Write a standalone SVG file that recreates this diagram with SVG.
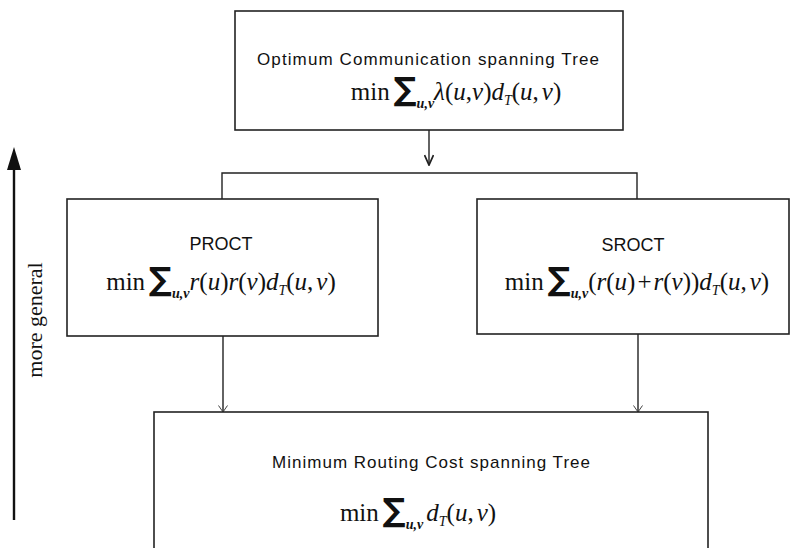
<svg xmlns="http://www.w3.org/2000/svg" width="792" height="548" viewBox="0 0 792 548">
<defs>
<style>
.box{fill:#fff;stroke:#222;stroke-width:1.6}
.con{fill:none;stroke:#222;stroke-width:1.4}
.lbl{font-family:"Liberation Sans",Arial,sans-serif;font-size:17px;fill:#111;text-anchor:middle}
.lbl2{font-family:"Liberation Sans",Arial,sans-serif;font-size:18px;fill:#111;text-anchor:middle}
.f{font-family:"Liberation Serif","Times New Roman",serif;font-size:25px;fill:#111;text-anchor:middle}
.i{font-style:italic}
.sum{font-family:"DejaVu Sans","Liberation Sans",sans-serif;font-size:32px;font-weight:bold}
.sub{font-style:italic;font-weight:bold;font-size:14px}
.st{font-style:italic;font-size:14px}
</style>
<marker id="vee" viewBox="0 0 12 10" refX="11" refY="5" markerWidth="12" markerHeight="10" markerUnits="userSpaceOnUse" orient="auto">
<path d="M1,0.5 L11,5 L1,9.5" fill="none" stroke="#222" stroke-width="1.8"/>
</marker>
<marker id="veeS" viewBox="0 0 8 10" refX="7" refY="5" markerWidth="8" markerHeight="10" markerUnits="userSpaceOnUse" orient="auto">
<path d="M0.5,0.5 L7,5 L0.5,9.5" fill="none" stroke="#444" stroke-width="1"/>
</marker>
</defs>

<g id="connectors">
<line class="con" x1="429" y1="130" x2="429" y2="165" marker-end="url(#vee)"/>
<polyline class="con" points="222,199 222,173 637,173 637,199"/>
<line class="con" x1="223" y1="336" x2="223" y2="412" marker-end="url(#veeS)"/>
<line class="con" x1="638" y1="334" x2="638" y2="412" marker-end="url(#veeS)"/>
</g>

<g id="ocst">
<rect class="box" x="235" y="11" width="388" height="119"/>
<text class="lbl" x="428" y="65" textLength="342" lengthAdjust="spacing">Optimum Communication spanning Tree</text>
<text class="f" x="456" y="100">min<tspan class="sum" dx="4">∑</tspan><tspan class="sub" dy="8">u,v</tspan><tspan class="i" dy="-8">λ</tspan>(<tspan class="i">u</tspan>,<tspan class="i">v</tspan>)<tspan class="i">d</tspan><tspan class="st" dy="5">T</tspan><tspan dy="-5">(</tspan><tspan class="i">u</tspan>,<tspan class="i" dx="3">v</tspan>)</text>
</g>

<g id="proct">
<rect class="box" x="67" y="199" width="311" height="137"/>
<text class="lbl2" x="221" y="250">PROCT</text>
<text class="f" x="221" y="290">min<tspan class="sum" dx="4">∑</tspan><tspan class="sub" dy="8">u,v</tspan><tspan class="i" dy="-8">r</tspan>(<tspan class="i">u</tspan>)<tspan class="i">r</tspan>(<tspan class="i">v</tspan>)<tspan class="i">d</tspan><tspan class="st" dy="5">T</tspan><tspan dy="-5">(</tspan><tspan class="i">u</tspan>,<tspan class="i" dx="3">v</tspan>)</text>
</g>

<g id="sroct">
<rect class="box" x="477" y="199" width="312" height="135"/>
<text class="lbl2" x="633" y="251">SROCT</text>
<text class="f" x="637" y="290">min<tspan class="sum" dx="4">∑</tspan><tspan class="sub" dy="8">u,v</tspan><tspan dy="-8">(</tspan><tspan class="i">r</tspan>(<tspan class="i">u</tspan>)<tspan dx="2">+</tspan><tspan class="i" dx="2">r</tspan>(<tspan class="i">v</tspan>))<tspan class="i">d</tspan><tspan class="st" dy="5">T</tspan><tspan dy="-5">(</tspan><tspan class="i">u</tspan>,<tspan class="i" dx="3">v</tspan>)</text>
</g>

<g id="mrct">
<rect class="box" x="154" y="412" width="554" height="150"/>
<text class="lbl" x="431" y="468" textLength="318" lengthAdjust="spacing">Minimum Routing Cost spanning Tree</text>
<text class="f" x="418" y="521">min<tspan class="sum" dx="4">∑</tspan><tspan class="sub" dy="8">u,v</tspan><tspan class="i" dy="-8" dx="3">d</tspan><tspan class="st" dy="5">T</tspan><tspan dy="-5">(</tspan><tspan class="i">u</tspan>,<tspan class="i" dx="3">v</tspan>)</text>
</g>

<g id="axis">
<line x1="14" y1="168" x2="14" y2="520" stroke="#111" stroke-width="2.4"/>
<polygon points="14,147 7,170 21,170" fill="#111"/>
<text x="0" y="0" transform="translate(42,320) rotate(-90)" font-family="'Liberation Serif','Times New Roman',serif" font-size="22" fill="#111" text-anchor="middle">more general</text>
</g>
</svg>
